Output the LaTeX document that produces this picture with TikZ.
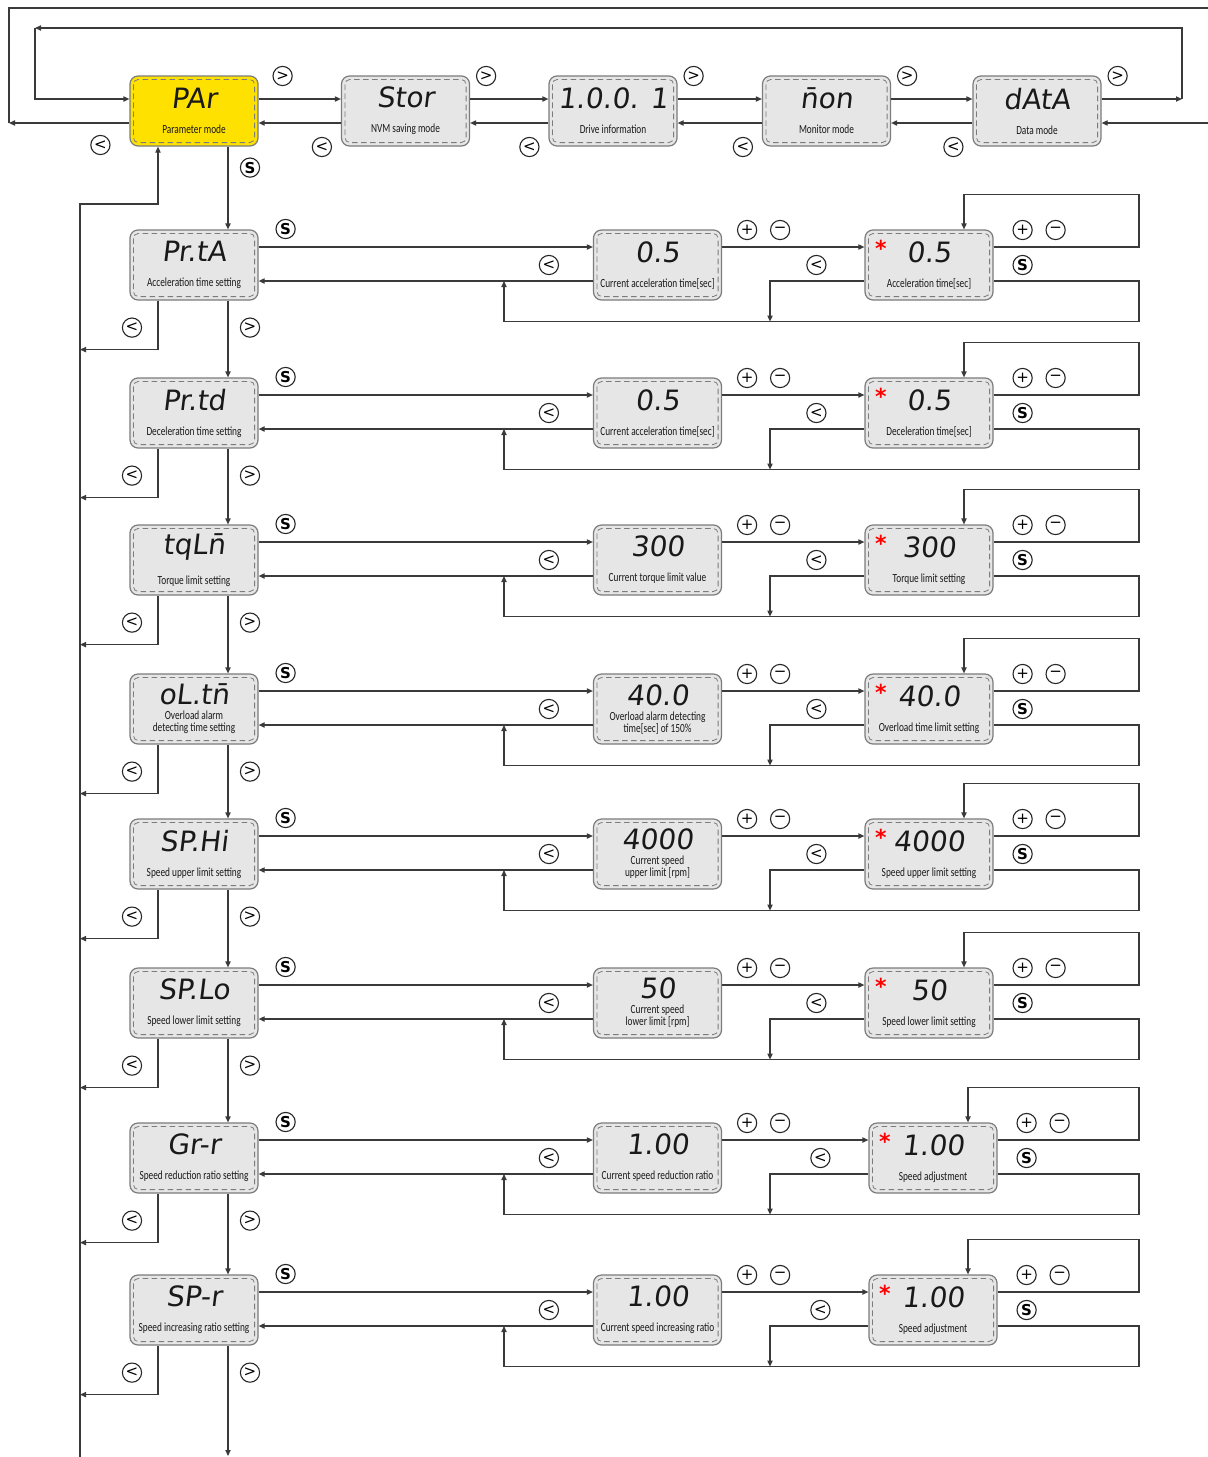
\documentclass[tikz,border=0pt]{standalone}
\usepackage{fontspec}
\newfontfamily\segfont{DejaVu Sans}[FakeSlant=0.12]
\newfontfamily\labelfont{Carlito}[FakeStretch=0.75]
\newfontfamily\keyfont{DejaVu Sans}
\usetikzlibrary{arrows.meta}
\definecolor{panelfill}{HTML}{E6E6E6}
\definecolor{panelline}{HTML}{7C7C7C}
\definecolor{modefill}{HTML}{FFE100}
\definecolor{linegray}{HTML}{3A3A3A}
\newcommand{\seg}[1]{{\segfont\fontsize{14}{14}\selectfont #1}}
\newcommand{\redstar}{\raisebox{3pt}{\textcolor{red}{\keyfont\bfseries\fontsize{11}{11}\selectfont *}}}
\newcommand{\setval}[1]{\makebox[54pt]{\redstar\hfill\seg{#1}\hfill\hphantom{\redstar}}}
\tikzset{
  panel/.style={rectangle, draw=panelline, fill=panelfill, line width=0.6pt, rounded corners=4pt,
    minimum width=64pt, minimum height=35pt, inner sep=0pt, align=center, text=black!90,
    font=\labelfont\fontsize{6.2}{6}\selectfont,
    path picture={\draw[panelline, line width=0.4pt, dash pattern=on 2.8pt off 1.7pt, rounded corners=2.5pt]
      ([shift={(1.7pt,-1.7pt)}]path picture bounding box.north west) rectangle
      ([shift={(-1.7pt,1.7pt)}]path picture bounding box.south east);}},
  mode/.style={panel, fill=modefill},
  key/.style={circle, draw=black!85, line width=0.55pt, minimum size=9.6pt, inner sep=0pt,
    font=\keyfont\fontsize{7.5}{7.5}\selectfont},
  line/.style={draw=linegray, line width=0.6pt, -{Triangle[length=3pt,width=2.6pt]}},
  thi/.style={shift={(0,-12)}}, tlo/.style={shift={(0,12)}},
  hi/.style={shift={(0,-18)}}, lo/.style={shift={(0,16)}}
}

\begin{document}
\begin{tikzpicture}[x=0.5pt, y=-0.5pt]
\fill[white] (0,0) rectangle (1207,1457);
\useasboundingbox (0,0) rectangle (1207,1457);

% mode ring
\node[mode]  (PAr)  at (194,111)   {\seg{PAr}\\[6.5pt]Parameter mode};
\node[panel] (Stor) at (405.5,111) {\seg{Stor}\\[6.5pt]NVM saving mode};
\node[panel] (drv)  at (613,111)   {\seg{1.0.0. 1}\\[6.5pt]Drive information};
\node[panel] (mon)  at (826.5,111) {\seg{n̄on}\\[6.5pt]Monitor mode};
\node[panel] (data) at (1037,111)  {\seg{dAtA}\\[6.5pt]Data mode};

% parameter menu
\node[panel] (l1) at (194,265)  {\seg{Pr.tA}\\[6.5pt]Acceleration time setting};
\node[panel] (l2) at (194,413)  {\seg{Pr.td}\\[6.5pt]Deceleration time setting};
\node[panel] (l3) at (194,560)  {\seg{tqLn̄}\\[6.5pt]Torque limit setting};
\node[panel] (l4) at (194,709)  {\seg{oL.tn̄}\\[1.5pt]Overload alarm\\detecting time setting};
\node[panel] (l5) at (194,854)  {\seg{SP.Hi}\\[6.5pt]Speed upper limit setting};
\node[panel] (l6) at (194,1003) {\seg{SP.Lo}\\[6.5pt]Speed lower limit setting};
\node[panel] (l7) at (194,1158) {\seg{Gr-r}\\[6.5pt]Speed reduction ratio setting};
\node[panel] (l8) at (194,1310) {\seg{SP-r}\\[6.5pt]Speed increasing ratio setting};

% current values
\node[panel] (m1) at (657.5,265)  {\seg{0.5}\\[6.5pt]Current acceleration time[sec]};
\node[panel] (m2) at (657.5,413)  {\seg{0.5}\\[6.5pt]Current acceleration time[sec]};
\node[panel] (m3) at (657.5,560)  {\seg{300}\\[6.5pt]Current torque limit value};
\node[panel] (m4) at (657.5,709)  {\seg{40.0}\\[1.5pt]Overload alarm detecting\\time[sec] of 150\%};
\node[panel] (m5) at (657.5,854)  {\seg{4000}\\[1.5pt]Current speed\\upper limit [rpm]};
\node[panel] (m6) at (657.5,1003) {\seg{50}\\[1.5pt]Current speed\\lower limit [rpm]};
\node[panel] (m7) at (657.5,1158) {\seg{1.00}\\[6.5pt]Current speed reduction ratio};
\node[panel] (m8) at (657.5,1310) {\seg{1.00}\\[6.5pt]Current speed increasing ratio};

% edited values
\node[panel] (r1) at (929,265)  {\setval{0.5}\\[6.5pt]Acceleration time[sec]};
\node[panel] (r2) at (929,413)  {\setval{0.5}\\[6.5pt]Deceleration time[sec]};
\node[panel] (r3) at (929,560)  {\setval{300}\\[6.5pt]Torque limit setting};
\node[panel] (r4) at (929,709)  {\setval{40.0}\\[6.5pt]Overload time limit setting};
\node[panel] (r5) at (929,854)  {\setval{4000}\\[6.5pt]Speed upper limit setting};
\node[panel] (r6) at (929,1003) {\setval{50}\\[6.5pt]Speed lower limit setting};
\node[panel] (r7) at (933,1158) {\setval{1.00}\\[6.5pt]Speed adjustment};
\node[panel] (r8) at (933,1310) {\setval{1.00}\\[6.5pt]Speed adjustment};

\coordinate (loopL) at (35,28);
\coordinate (loopR) at (1182,28);
\coordinate (outL) at (9,8);
\coordinate (outR) at (1214,8);
\coordinate (spineTop) at (80,204);
\coordinate (spineEnd) at (80,1462);
\coordinate (chainEnd) at (228,1456);
\coordinate (spine) at (80,0);
\coordinate (rail) at (1139,0);
\coordinate (upx) at (504,0);
\coordinate (dnx) at (770,0);

% mode ring connectors
\foreach \a/\b in {PAr/Stor, Stor/drv, drv/mon, mon/data} {
  \draw[line] ([thi]\a.east) -- ([thi]\b.west);
  \draw[line] ([tlo]\b.west) -- ([tlo]\a.east);
}
\draw[line] ([thi]data.east) -- ([thi]data.east -| loopR);
\draw[line] ([thi]data.east -| loopR) -- (loopR) -- (loopL);
\draw[line] (loopL) |- ([thi]PAr.west);
\draw[line] ([tlo]PAr.west) -- ([tlo]PAr.west -| outL);
\draw[line] ([tlo]PAr.west -| outL) -- (outL) -- (outR) |- ([tlo]data.east);

\node[key] (gPAr)  at ([shift={(24,-35)}]PAr.east)  {>};
\node[key] (gStor) at ([shift={(16,-35)}]Stor.east) {>};
\node[key] (gdrv)  at ([shift={(16,-35)}]drv.east)  {>};
\node[key] (gmon)  at ([shift={(16,-35)}]mon.east)  {>};
\node[key] (gdata) at ([shift={(16,-35)}]data.east) {>};
\node[key] (bPAr)  at ([shift={(-29,34)}]PAr.west)  {<};
\node[key] (bStor) at ([shift={(-19,36)}]Stor.west) {<};
\node[key] (bdrv)  at ([shift={(-19,36)}]drv.west)  {<};
\node[key] (bmon)  at ([shift={(-19,36)}]mon.west)  {<};
\node[key] (bdata) at ([shift={(-19,36)}]data.west) {<};
\node[key] (ks0)   at ([shift={(56,21)}]PAr.south)  {\bfseries S};

% parameter column
\foreach \a/\b in {PAr/l1, l1/l2, l2/l3, l3/l4, l4/l5, l5/l6, l6/l7, l7/l8}
  \draw[line] ([shift={(34,0)}]\a.south) -- ([shift={(34,0)}]\b.north);
\draw[line] ([shift={(34,0)}]l8.south) -- (chainEnd);
\draw[line] (spineEnd) -- (spineTop) -| ([shift={(-36,0)}]PAr.south);

% each parameter row
\foreach \row in {1,...,8} {
  \draw[line] ([hi]l\row.east) -- ([hi]m\row.west);
  \draw[line] ([lo]m\row.west) -- ([lo]l\row.east);
  \draw[line] ([hi]m\row.east) -- ([hi]r\row.west);
  \draw[line] ([hi]r\row.east) -| ([shift={(0,-35)}]rail |- r\row.north) -| ([shift={(35,0)}]r\row.north);
  \draw[line] ([lo]r\row.east) -| ([shift={(0,21)}]rail |- r\row.south) -| ([lo]upx |- m\row.west);
  \draw[line] ([lo]r\row.west) -| ([shift={(0,21)}]dnx |- r\row.south);
  \draw[line] ([shift={(-36,0)}]l\row.south) |- ([shift={(0,49)}]spine |- l\row.south);
  \node[key] (ks\row) at ([shift={(27,-36)}]l\row.east) {\bfseries S};
  \node[key] (kb\row) at ([shift={(-44,0)}]m\row.west) {<};
  \node[key] (kp\row) at ([shift={(25,-35)}]m\row.east) {+};
  \node[key] (km\row) at ([shift={(58,-35)}]m\row.east) {−};
  \node[key] (kc\row) at ([shift={(-48,0)}]r\row.west) {<};
  \node[key] (kq\row) at ([shift={(29,-35)}]r\row.east) {+};
  \node[key] (kn\row) at ([shift={(62,-35)}]r\row.east) {−};
  \node[key] (kt\row) at ([shift={(29,0)}]r\row.east) {\bfseries S};
  \node[key] (kl\row) at ([shift={(-62,27)}]l\row.south) {<};
  \node[key] (kr\row) at ([shift={(56,27)}]l\row.south) {>};
}
\end{tikzpicture}
\end{document}
